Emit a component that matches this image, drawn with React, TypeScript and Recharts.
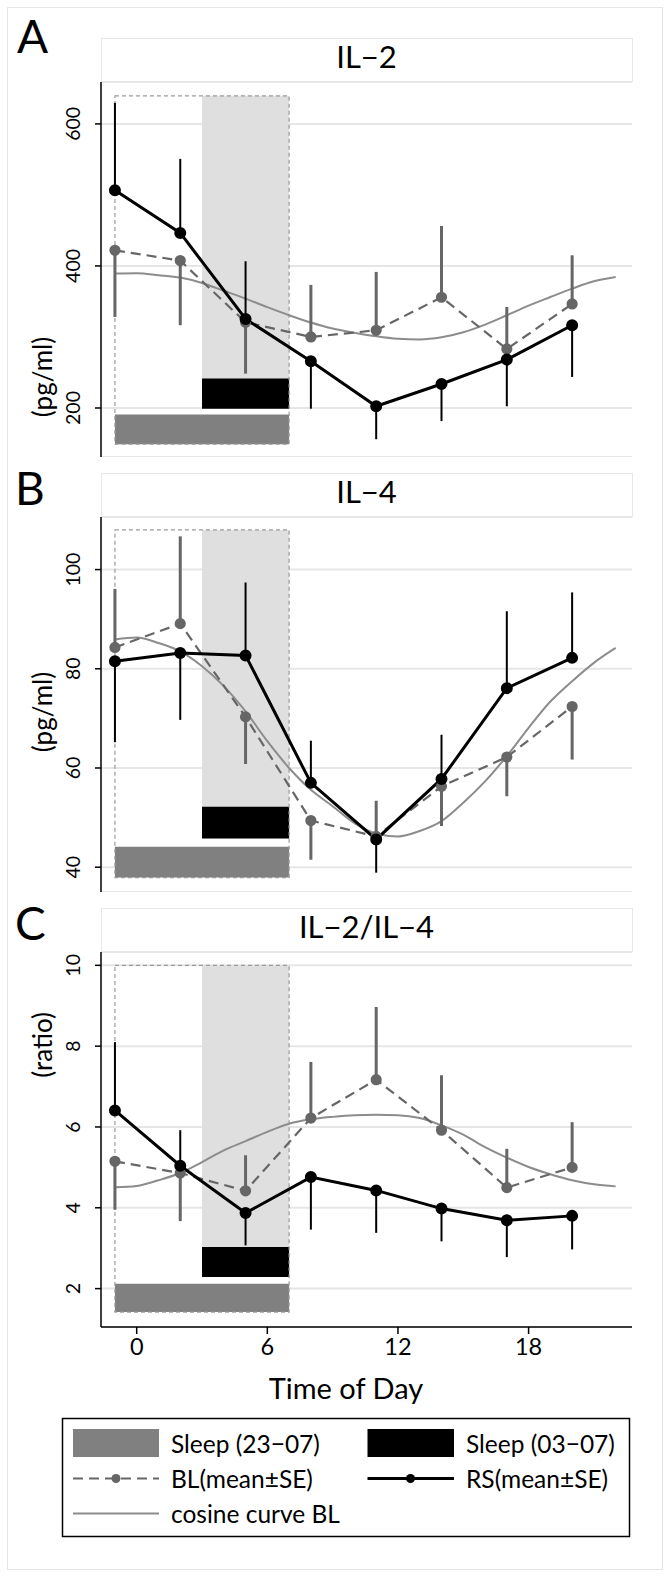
import React from "react";
import {
  ComposedChart,
  Line,
  XAxis,
  YAxis,
  CartesianGrid,
  ReferenceArea,
  ErrorBar,
} from "recharts";

// time points (hour of day)
const HOURS = [-1, 2, 5, 8, 11, 14, 17, 20];
const COS_HOURS = [-1, 0, 1, 2, 3, 4, 5, 6, 7, 8, 9, 10, 11, 12, 13, 14, 15, 16, 17, 18, 19, 20, 21, 22];
const X_TICKS = [0, 6, 12, 18];

// IL-2 (pg/ml)
const IL2_RS = [506.6, 446.5, 325.4, 265.8, 202.4, 233.8, 268.2, 316.5];
const IL2_RS_SE = [629.6, 550.7, 406.6, 199, 156, 181.7, 202.4, 243.7];
const IL2_BL = [422, 407.6, 320.7, 300, 309.4, 355.9, 283.1, 346.5];
const IL2_BL_SE = [328.2, 316.5, 248.4, 373.3, 391.6, 456.3, 342.3, 415];
const IL2_COS = [389.3, 389.7, 387, 383.6, 376, 365, 354, 342, 330.6, 320.3, 311.8, 306, 301, 297.5, 296.5, 299.5, 306.6, 317.4, 330.6, 344.2, 356.3, 368.1, 378.4, 384.5];

// IL-4 (pg/ml)
const IL4_RS = [81.5, 83.2, 82.7, 57.0, 45.6, 57.8, 76.1, 82.2];
const IL4_RS_SE = [65.2, 69.7, 97.4, 65.5, 38.9, 66.7, 91.6, 95.4];
const IL4_BL = [84.3, 89.1, 70.3, 49.4, 46.2, 56.3, 62.2, 72.4];
const IL4_BL_SE = [96.1, 106.7, 60.8, 41.5, 53.4, 48.3, 54.3, 61.7];
const IL4_COS = [85.9, 86.3, 85.2, 83.5, 80.5, 76.5, 71.4, 65.4, 60.0, 55.6, 52.3, 48.9, 46.8, 46.2, 47.3, 49.3, 53.0, 57.3, 62.4, 68.1, 73.4, 77.5, 81.2, 84.2];

// IL-2/IL-4 ratio
const RATIO_RS = [6.41, 5.04, 3.87, 4.76, 4.43, 3.98, 3.69, 3.8];
const RATIO_RS_SE = [8.1, 5.92, 3.07, 3.46, 3.38, 3.17, 2.78, 2.97];
const RATIO_BL = [5.15, 4.86, 4.42, 6.22, 7.17, 5.92, 4.5, 5.0];
const RATIO_BL_SE = [3.95, 3.67, 5.3, 7.61, 8.97, 7.28, 5.46, 6.12];
const RATIO_COS = [4.51, 4.54, 4.68, 4.86, 5.13, 5.42, 5.65, 5.88, 6.08, 6.19, 6.25, 6.29, 6.3, 6.29, 6.22, 6.04, 5.81, 5.5, 5.24, 5.01, 4.83, 4.68, 4.58, 4.53];

// sleep windows (hours)
const SLEEP_FULL = [-1, 7]; // 23-07
const SLEEP_LATE = [3, 7]; // 03-07

const FONT = "Lato, 'Open Sans', sans-serif";
const BL_COLOR = "#666666";
const COS_COLOR = "#8c8c8c";

function rows(mean: number[], se: number[]) {
  // error bars are one-sided: they point away from the other group
  return HOURS.map((h, i) => ({
    h,
    m: mean[i],
    e: se[i] > mean[i] ? [0, se[i] - mean[i]] : [mean[i] - se[i], 0],
  }));
}

function cosRows(vals: number[]) {
  return COS_HOURS.map((h, i) => ({ h, m: vals[i] }));
}

function YTick(props: any) {
  const { y, payload } = props;
  return (
    <text
      x={80}
      y={y}
      transform={`rotate(-90 80 ${y})`}
      textAnchor="middle"
      fontSize={19.5}
      fontFamily={FONT}
      fill="#000"
    >
      {payload.value}
    </text>
  );
}

type PanelProps = {
  top: number;
  domain: [number, number];
  ticks: number[];
  box: [number, number];
  grayBar: [number, number];
  blackBar: [number, number];
  rs: any[];
  bl: any[];
  cos: any[];
  showX?: boolean;
};

function Panel(p: PanelProps) {
  const h = p.showX ? 425 : 375;
  return (
    <div style={{ position: "absolute", left: 0, top: p.top }}>
      <ComposedChart width={668} height={h} margin={{ top: 0, right: 36, bottom: 0, left: 0 }}>
        <CartesianGrid vertical={false} stroke="#e6e6e6" strokeWidth={2} />
        <XAxis
          type="number"
          dataKey="h"
          domain={[-1.64, 22.75]}
          allowDataOverflow
          ticks={X_TICKS}
          hide={!p.showX}
          height={50}
          tickSize={7}
          tickMargin={4}
          axisLine={{ stroke: "#000", strokeWidth: 1.5 }}
          tickLine={{ stroke: "#000", strokeWidth: 1.5 }}
          tick={{ fontSize: 23.5, fontFamily: FONT, fill: "#000" }}
        />
        <YAxis
          type="number"
          domain={p.domain}
          allowDataOverflow
          ticks={p.ticks}
          width={101}
          tickSize={6}
          axisLine={{ stroke: "#000", strokeWidth: 1.5 }}
          tickLine={{ stroke: "#000", strokeWidth: 1.5 }}
          tick={<YTick />}
        />
        <ReferenceArea
          x1={SLEEP_LATE[0]}
          x2={SLEEP_LATE[1]}
          y1={p.blackBar[0]}
          y2={p.box[1]}
          fill="#dfdfdf"
          fillOpacity={1}
          stroke="none"
        />
        <ReferenceArea
          x1={SLEEP_FULL[0]}
          x2={SLEEP_FULL[1]}
          y1={p.grayBar[0]}
          y2={p.grayBar[1]}
          fill="#808080"
          fillOpacity={1}
          stroke="none"
        />
        <ReferenceArea
          x1={SLEEP_LATE[0]}
          x2={SLEEP_LATE[1]}
          y1={p.blackBar[0]}
          y2={p.blackBar[1]}
          fill="#000"
          fillOpacity={1}
          stroke="none"
        />
        <ReferenceArea
          x1={SLEEP_FULL[0]}
          x2={SLEEP_FULL[1]}
          y1={p.box[0]}
          y2={p.box[1]}
          fill="none"
          fillOpacity={0}
          stroke="#9a9a9a"
          strokeWidth={1.2}
          strokeDasharray="4 3"
        />
        <Line
          data={p.cos}
          dataKey="m"
          type="monotone"
          stroke={COS_COLOR}
          strokeWidth={2}
          dot={false}
          isAnimationActive={false}
        />
        <Line
          data={p.bl}
          dataKey="m"
          type="linear"
          stroke={BL_COLOR}
          strokeWidth={2.2}
          strokeDasharray="10 6"
          dot={{ r: 4.5, fill: BL_COLOR, stroke: BL_COLOR, strokeDasharray: "0" }}
          isAnimationActive={false}
        >
          <ErrorBar dataKey="e" direction="y" width={0} stroke={BL_COLOR} strokeWidth={3} isAnimationActive={false} />
        </Line>
        <Line
          data={p.rs}
          dataKey="m"
          type="linear"
          stroke="#000"
          strokeWidth={3}
          dot={{ r: 4.5, fill: "#000", stroke: "#000" }}
          isAnimationActive={false}
        >
          <ErrorBar dataKey="e" direction="y" width={0} stroke="#000" strokeWidth={2} isAnimationActive={false} />
        </Line>
      </ComposedChart>
    </div>
  );
}

function Overlay() {
  const strips = [
    { y: 38, title: "IL−2", letter: "A", ly: 53, lx: 17, yt: "(pg/ml)", ytx: 42, yty: 377 },
    { y: 473, title: "IL−4", letter: "B", ly: 505, lx: 15, yt: "(pg/ml)", ytx: 42, yty: 712 },
    { y: 908, title: "IL−2/IL−4", letter: "C", ly: 940, lx: 15, yt: "(ratio)", ytx: 42, yty: 1045 },
  ];
  return (
    <svg width={668} height={1577} style={{ position: "absolute", left: 0, top: 0 }} fontFamily={FONT}>
      <rect x={7.5} y={7.5} width={655} height={1562} fill="#fff" stroke="#e6e6e6" />
      {strips.map((s) => (
        <g key={s.letter}>
          <text x={s.lx} y={s.ly} fontSize={46} fill="#000">
            {s.letter}
          </text>
          <rect x={101.5} y={s.y + 0.5} width={531} height={43} fill="#fff" stroke="#e8e8e8" />
          <text x={366.5} y={s.y + 30} fontSize={31} textAnchor="middle" fill="#000">
            {s.title}
          </text>
          <text
            x={s.ytx}
            y={s.yty}
            fontSize={26}
            textAnchor="middle"
            dominantBaseline="central"
            transform={`rotate(-90 ${s.ytx} ${s.yty})`}
            fill="#000"
          >
            {s.yt}
          </text>
        </g>
      ))}
      <text x={346} y={1399} fontSize={29} textAnchor="middle" fill="#000">
        Time of Day
      </text>
      {/* legend */}
      <rect x={62.5} y={1418.5} width={567} height={118} fill="#fff" stroke="#000" strokeWidth={1.5} />
      <rect x={73} y={1429} width={86} height={28} fill="#808080" />
      <text x={171} y={1453} fontSize={24.5}>Sleep (23−07)</text>
      <rect x={367.5} y={1429} width={86.5} height={28} fill="#000" />
      <text x={466} y={1453} fontSize={24.5}>Sleep (03−07)</text>
      <line x1={73} y1={1478.5} x2={159} y2={1478.5} stroke={BL_COLOR} strokeWidth={2.2} strokeDasharray="10 6" />
      <circle cx={116} cy={1478.5} r={4.5} fill={BL_COLOR} />
      <text x={171} y={1488} fontSize={24.5}>BL(mean±SE)</text>
      <line x1={367.5} y1={1478.5} x2={454} y2={1478.5} stroke="#000" strokeWidth={3} />
      <circle cx={410.5} cy={1478.5} r={4.5} fill="#000" />
      <text x={466} y={1488} fontSize={24.5}>RS(mean±SE)</text>
      <line x1={73} y1={1513.5} x2={159} y2={1513.5} stroke={COS_COLOR} strokeWidth={2} />
      <text x={171} y={1523} fontSize={24.5}>cosine curve BL</text>
    </svg>
  );
}

export default function App() {
  return (
    <div style={{ position: "absolute", left: 0, top: 0, width: 668, height: 1577, background: "#fff" }}>
      <Overlay />
      <Panel
        top={82}
        domain={[131, 659]}
        ticks={[200, 400, 600]}
        box={[149, 639.5]}
        grayBar={[149, 190.7]}
        blackBar={[199, 241.4]}
        rs={rows(IL2_RS, IL2_RS_SE)}
        bl={rows(IL2_BL, IL2_BL_SE)}
        cos={cosRows(IL2_COS)}
      />
      <Panel
        top={517}
        domain={[35, 110.6]}
        ticks={[40, 60, 80, 100]}
        box={[37.9, 108]}
        grayBar={[37.9, 44.1]}
        blackBar={[45.8, 52.2]}
        rs={rows(IL4_RS, IL4_RS_SE)}
        bl={rows(IL4_BL, IL4_BL_SE)}
        cos={cosRows(IL4_COS)}
      />
      <Panel
        top={952}
        domain={[1.05, 10.33]}
        ticks={[2, 4, 6, 8, 10]}
        box={[1.42, 10.0]}
        grayBar={[1.42, 2.12]}
        blackBar={[2.29, 3.03]}
        rs={rows(RATIO_RS, RATIO_RS_SE)}
        bl={rows(RATIO_BL, RATIO_BL_SE)}
        cos={cosRows(RATIO_COS)}
        showX
      />
    </div>
  );
}
